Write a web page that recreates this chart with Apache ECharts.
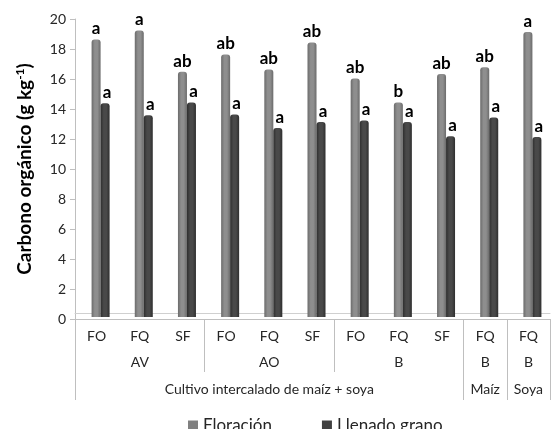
<!DOCTYPE html>
<html>
<head>
<meta charset="utf-8">
<script src="https://cdn.jsdelivr.net/npm/echarts@6/dist/echarts.min.js"></script>
<style>
  html, body { margin: 0; padding: 0; background: #fff; }
  #chart { width: 557px; height: 429px; }
</style>
</head>
<body>
<div id="chart"></div>
<script>
// Treatments (first level) and their grouping rows
const treatments = ['FO', 'FQ', 'SF', 'FO', 'FQ', 'SF', 'FO', 'FQ', 'SF', 'FQ', 'FQ'];
const groupRow = ['', 'AV', '', '', 'AO', '', '', 'B', '', 'B', 'B'];
const systemRow = ['', '', '', '', 'Cultivo intercalado de maíz + soya', '', '', '', '', 'Maíz', 'Soya'];
const yTicks = [0, 2, 4, 6, 8, 10, 12, 14, 16, 18, 20];

// Organic carbon (g kg-1) at flowering and grain filling
const floracion = [18.5, 19.1, 16.35, 17.5, 16.5, 18.3, 15.9, 14.3, 16.2, 16.65, 19.0];
const llenado   = [14.25, 13.45, 14.3, 13.5, 12.6, 13.0, 13.1, 13.0, 12.05, 13.3, 12.0];

// Significance letters
const letrasFloracion = ['a', 'a', 'ab', 'ab', 'ab', 'ab', 'ab', 'b', 'ab', 'ab', 'a'];
const letrasLlenado   = ['a', 'a', 'a', 'a', 'a', 'a', 'a', 'a', 'a', 'a', 'a'];

const FONT = 'Lato, "Open Sans", sans-serif';
const lineColor = '#bfbfbf';
const textColor = '#262626';

function cylinder(edge, mid) {
  return {
    type: 'linear', x: 0, y: 0, x2: 1, y2: 0,
    colorStops: [
      { offset: 0, color: edge },
      { offset: 0.35, color: mid },
      { offset: 0.65, color: mid },
      { offset: 1, color: edge }
    ]
  };
}

const groupEnds = [0, 3, 6, 9, 10];
const fullEnds = [0, 9, 10];

const chart = echarts.init(document.getElementById('chart'));
chart.setOption({
  backgroundColor: '#fff',
  animation: false,
  textStyle: { fontFamily: FONT },
  legend: {
    top: 412,
    left: 183,
    itemWidth: 10,
    itemHeight: 10,
    itemGap: 50,
    icon: 'rect',
    textStyle: { fontFamily: FONT, fontSize: 17, color: textColor },
    data: [
      { name: 'Floración', itemStyle: { color: '#808080' } },
      { name: 'Llenado grano', itemStyle: { color: '#404040' } }
    ]
  },
  grid: [
    // axes frame
    { left: 75, right: 7, top: 19, bottom: 110 },
    // columns, set slightly back in depth
    { left: 79, right: 3, top: 17, bottom: 112 }
  ],
  xAxis: [
    {
      gridIndex: 0, type: 'category', data: treatments, position: 'bottom',
      axisLine: { show: true, lineStyle: { color: lineColor } },
      axisTick: { show: true, length: 81, lineStyle: { color: lineColor },
        interval: (i) => fullEnds.indexOf(i) >= 0 },
      axisLabel: { margin: 10, fontSize: 14, color: textColor, fontFamily: FONT, interval: 0 }
    },
    {
      gridIndex: 0, type: 'category', data: groupRow, position: 'bottom', offset: 26,
      axisLine: { show: false },
      axisTick: { show: false },
      axisLabel: { margin: 10, fontSize: 14, color: textColor, fontFamily: FONT,
        interval: (i, v) => v !== '' }
    },
    {
      gridIndex: 0, type: 'category', data: systemRow, position: 'bottom', offset: 53,
      axisLine: { show: false },
      axisTick: { show: false },
      axisLabel: { margin: 10, fontSize: 14, color: textColor, fontFamily: FONT,
        interval: (i, v) => v !== '' }
    },
    {
      // group separators between AV, AO and B
      gridIndex: 0, type: 'category', data: treatments, position: 'bottom',
      axisLine: { show: false },
      axisLabel: { show: false },
      axisTick: { show: true, length: 53, lineStyle: { color: lineColor },
        interval: (i) => groupEnds.indexOf(i) >= 0 }
    },
    {
      // back edge of the floor
      gridIndex: 0, type: 'category', data: treatments, position: 'bottom', offset: -6,
      axisLine: { show: true, lineStyle: { color: '#d0d0d0' } },
      axisTick: { show: false }, axisLabel: { show: false }
    },
    {
      gridIndex: 1, type: 'category', data: treatments, show: false
    }
  ],
  yAxis: [
    {
      gridIndex: 0, type: 'value', min: yTicks[0], max: yTicks[yTicks.length - 1], interval: 2,
      name: '{t|Carbono orgánico (g kg}{s|-1}{t|)}',
      nameLocation: 'middle', nameRotate: 90, nameGap: 40,
      nameTextStyle: {
        rich: {
          t: { fontFamily: FONT, fontSize: 19, fontWeight: 'bold', color: '#000' },
          s: { fontFamily: FONT, fontSize: 12, fontWeight: 'bold', color: '#000', verticalAlign: 'top', padding: [0, 0, 9, 0] }
        }
      },
      axisLine: { show: true, lineStyle: { color: lineColor } },
      axisTick: { show: true, length: 5, lineStyle: { color: lineColor } },
      axisLabel: { fontSize: 14, color: textColor, fontFamily: FONT, margin: 9 },
      splitLine: { show: false }
    },
    {
      gridIndex: 1, type: 'value', min: yTicks[0], max: yTicks[yTicks.length - 1], interval: 2, show: false,
      splitLine: { show: false }
    }
  ],
  series: [
    {
      name: 'Floración', type: 'bar', xAxisIndex: 5, yAxisIndex: 1,
      data: floracion, barWidth: 9, barGap: '0%',
      itemStyle: { color: cylinder('#6b6b6b', '#8e8e8e'), borderRadius: [3, 3, 0, 0] },
      label: {
        show: true, position: 'top', distance: 2,
        fontFamily: FONT, fontSize: 17, fontWeight: 'bold', color: '#000',
        formatter: (p) => letrasFloracion[p.dataIndex]
      }
    },
    {
      name: 'Llenado grano', type: 'bar', xAxisIndex: 5, yAxisIndex: 1,
      data: llenado, barWidth: 9, barGap: '0%',
      itemStyle: { color: cylinder('#2e2e2e', '#494949'), borderRadius: [3, 3, 0, 0] },
      label: {
        show: true, position: 'top', distance: 2, offset: [2, 0],
        fontFamily: FONT, fontSize: 17, fontWeight: 'bold', color: '#000',
        formatter: (p) => letrasLlenado[p.dataIndex]
      }
    }
  ]
});
</script>
</body>
</html>
